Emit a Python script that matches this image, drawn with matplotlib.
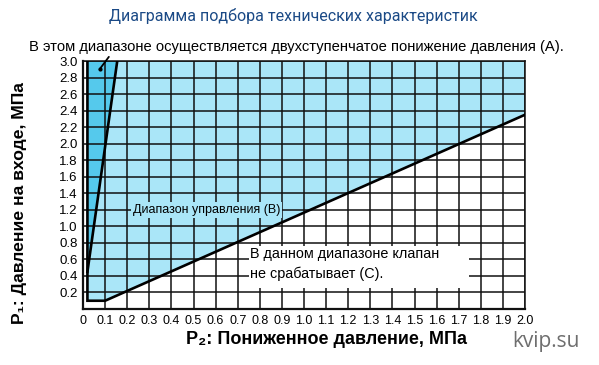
import matplotlib
matplotlib.use('Agg')
import matplotlib.pyplot as plt
from matplotlib.patches import Polygon, Rectangle

# границы областей диаграммы (P2, P1), МПа
region_b_x = [0.02, 0.1, 2.0, 2.0, 0.155, 0.02]
region_b_y = [0.1, 0.1, 2.35, 3.0, 3.0, 0.45]
region_a_x = [0.02, 0.155, 0.02]
region_a_y = [0.45, 3.0, 3.0]
lower_x = [0.02, 0.02, 0.1, 2.0]
lower_y = [3.0, 0.1, 0.1, 2.35]
steep_x = [0.02, 0.155]
steep_y = [0.45, 3.0]

x_ticks = [i / 10 for i in range(0, 21)]
x_labels = ['0'] + ['%.1f' % v for v in x_ticks[1:]]
y_ticks = [i / 5 for i in range(1, 16)]
y_labels = ['%.1f' % v for v in y_ticks]

title = 'Диаграмма подбора технических характеристик'
note_a = 'В этом диапазоне осуществляется двухступенчатое понижение давления (A).'
note_b = 'Диапазон управления (B)'
note_c = 'В данном диапазоне клапан\nне срабатывает (С).'

light = '#aae6f8'
dark = '#55c9ec'
sans = ['Liberation Sans', 'DejaVu Sans']

fig = plt.figure(figsize=(5.99, 3.65), dpi=100)
ax = fig.add_axes([83 / 599, 1 - 309 / 365, 442 / 599, 248 / 365])

ax.add_patch(Polygon(list(zip(region_b_x, region_b_y)), closed=True,
                     facecolor=light, edgecolor='none', zorder=1))
ax.add_patch(Polygon(list(zip(region_a_x, region_a_y)), closed=True,
                     facecolor=dark, edgecolor='none', zorder=1))

ax.set_xlim(0, 2.0)
ax.set_ylim(0, 3.0)
ax.set_xticks(x_ticks)
ax.set_xticklabels(x_labels, family=sans, fontsize=9)
ax.set_yticks(y_ticks)
ax.set_yticklabels(y_labels, family=sans, fontsize=9.5)
ax.tick_params(length=0, pad=4)
ax.grid(True, color='#111111', lw=1.1, zorder=2)
ax.set_axisbelow(False)
for s in ax.spines.values():
    s.set_color('#111111')
    s.set_linewidth(1.1)
ax.spines['left'].set_linewidth(1.6)
ax.spines['bottom'].set_linewidth(1.6)

ax.plot(lower_x, lower_y, color='black', lw=1.9, zorder=4, solid_joinstyle='miter')
ax.plot(steep_x, steep_y, color='black', lw=1.9, zorder=4)

# подписи областей
ax.text(0.225, 1.2, note_b, family=sans, fontsize=9, va='center', ha='left',
        zorder=5, bbox=dict(facecolor=light, edgecolor='none', pad=1.5))
ax.add_patch(Rectangle(((249 - 83) / 442, (309 - 288) / 248), 220 / 442, 42 / 248,
                       transform=ax.transAxes, facecolor='white', edgecolor='none',
                       zorder=3))
ax.text((250 - 83) / 442, (309 - 264) / 248, note_c, transform=ax.transAxes,
        family=sans, fontsize=10.4, va='center', ha='left', linespacing=1.4, zorder=5)

ax.annotate('', xy=(0.075, 2.9), xytext=(0.117, 3.05),
            arrowprops=dict(arrowstyle='-', lw=1.3, color='black',
                            shrinkA=0, shrinkB=0), annotation_clip=False)
ax.plot([0.075], [2.9], 'o', color='black', ms=2, zorder=5)

fig.text(29 / 599, 1 - 47 / 365, note_a, family=sans, fontsize=10.6,
         ha='left', va='center')
fig.text(0.489, 1 - 16 / 365, title, family=['Roboto', 'DejaVu Sans'],
         fontsize=11.5, fontstyle='normal', color='#1b4a86', ha='center', va='center')
fig.text(20 / 599, 1 - 203 / 365, 'P\u2081: Давление на входе, МПа', family=sans,
         fontsize=12.6, fontweight='bold', rotation=90, ha='center', va='center')
fig.text(327 / 599, 1 - 340 / 365, 'P\u2082: Пониженное давление, МПа', family=sans,
         fontsize=13, fontweight='bold', ha='center', va='center')
fig.text(546 / 599, 1 - 342 / 365, 'kvip.su', family=['Open Sans', 'DejaVu Sans'],
         fontsize=15, color='#6e6e6e', ha='center', va='center')

fig.savefig('out.png', dpi=100)
